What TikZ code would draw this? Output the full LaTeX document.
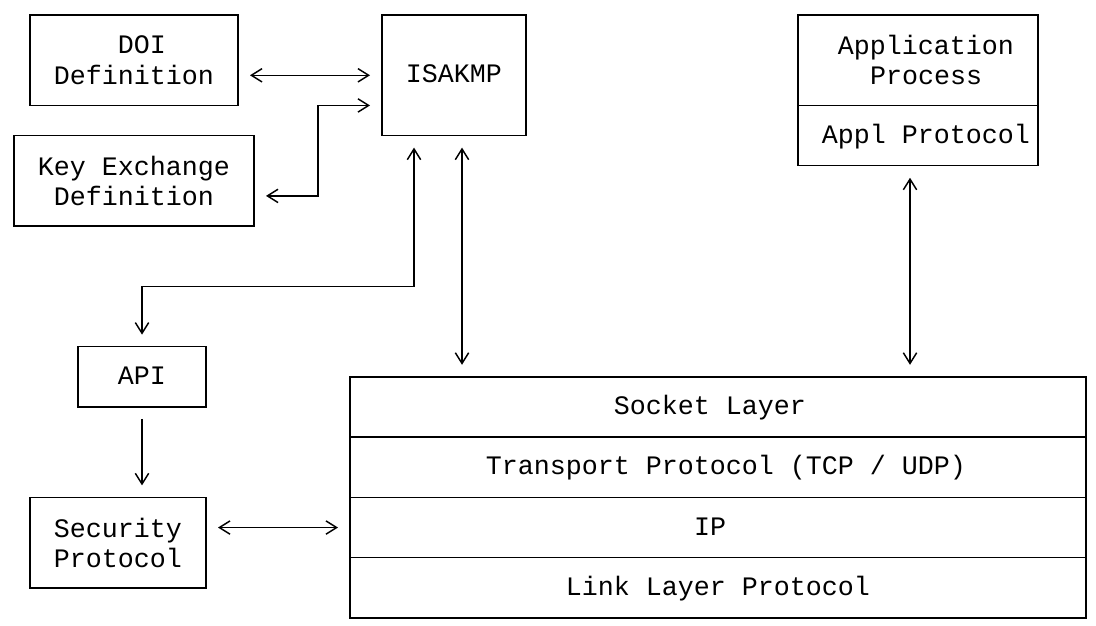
\documentclass[tikz,border=0pt]{standalone}
\usepackage{fontspec}
\newfontfamily\asciimono{Liberation Mono}
\usetikzlibrary{arrows.meta}
\newcommand\asciifont{\asciimono\fontsize{20pt}{22.61pt}\selectfont}
\newcommand\pad{\phantom{X}}
\begin{document}
\begin{tikzpicture}[x=0.75pt,y=-0.75pt,
  box/.style={draw, line width=1.1pt, inner sep=0pt, outer sep=0pt, font=\asciifont, align=center},
  oneline/.style={text height=11.5pt, text depth=0pt},
  conn/.style={line width=1.1pt, {Straight Barb[length=8pt,width=10pt]}-{Straight Barb[length=8pt,width=10pt]}, shorten <=9pt, shorten >=9pt},
  oneway/.style={line width=1.1pt, -{Straight Barb[length=8pt,width=10pt]}, shorten <=9pt, shorten >=9pt}]
\useasboundingbox (0,0) rectangle (1096,625);

% boxes
\node[box, minimum width=156pt, minimum height=67.84pt] (doi) at (134,60.2) {\pad DOI\\Definition};
\node[box, oneline, minimum width=108pt, minimum height=90.45pt] (isakmp) at (454,75.3) {ISAKMP};
\node[box, minimum width=180pt, minimum height=67.84pt] (app) at (918,60.2) {\pad Application\\\pad Process};
\node[box, oneline, minimum width=180pt, minimum height=45.23pt] (appl) at (918,135.6) {\pad Appl Protocol};
\node[box, minimum width=180pt, minimum height=67.84pt] (ke) at (134,180.8) {Key Exchange\\Definition};
\node[box, oneline, minimum width=96pt, minimum height=45.23pt] (api) at (142,376.8) {API};
\node[box, minimum width=132pt, minimum height=67.84pt] (sec) at (118,542.6) {Security\\Protocol};

\node[box, oneline, minimum width=552pt, minimum height=45.23pt] (sock) at (718,406.95) {Socket Layer\pad};
\node[box, oneline, minimum width=552pt, minimum height=45.23pt] (trans) at (718,467.25) {\pad Transport Protocol (TCP / UDP)};
\node[box, oneline, minimum width=552pt, minimum height=45.23pt] (ip) at (718,527.55) {IP\pad};
\node[box, oneline, minimum width=552pt, minimum height=45.23pt] (link) at (718,587.85) {Link Layer Protocol};

% bend points
\coordinate (kt) at (318,195.9);
\coordinate (kb) at (318,105.45);
\coordinate (ia) at (414,286.35);
\coordinate (is) at (462,250);
\coordinate (as) at (910,250);

% connectors
\draw[conn] (doi.east |- isakmp.west) -- (isakmp.west);
\draw[conn] (ke.east |- kt) -- (kt) -- (kb) -- (isakmp.west |- kb);
\draw[conn] (isakmp.south -| ia) -- (ia) -| (api.north);
\draw[conn] (isakmp.south -| is) -- (sock.north -| is);
\draw[conn] (appl.south -| as) -- (sock.north -| as);
\draw[oneway] (api.south) -- (sec.north -| api.south);
\draw[conn] (sec.east |- ip.west) -- (ip.west);
\end{tikzpicture}
\end{document}
